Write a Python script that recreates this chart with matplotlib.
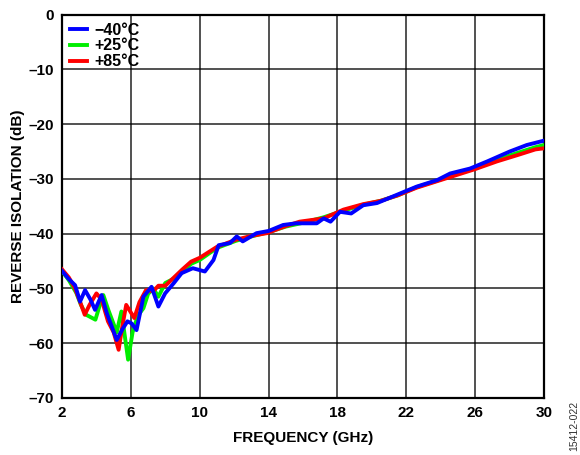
import matplotlib
matplotlib.use("Agg")
import matplotlib.pyplot as plt
from matplotlib.lines import Line2D

# ---- data ----
freq_m40 = [2.0, 2.4, 2.76, 3.05, 3.34, 3.65, 3.92, 4.3, 4.6, 5.18, 5.5, 5.8, 6.05, 6.33,
            6.73, 7.2, 7.6, 7.99, 8.5, 8.95, 9.6, 10.3, 10.8, 11.1, 11.76, 12.15, 12.5,
            13.3, 14.0, 14.85, 15.6, 16.8, 17.2, 17.6, 18.15, 18.8, 19.5, 20.3, 21.45,
            22.6, 23.8, 24.55, 25.7, 26.7, 28.0, 29.0, 30.0]
iso_m40 = [-46.8, -48.3, -49.4, -52.4, -50.3, -52.0, -53.9, -51.2, -54.5, -59.4, -57.5,
           -56.0, -56.4, -57.6, -51.5, -49.7, -53.3, -50.9, -49.0, -47.2, -46.3, -46.9,
           -44.8, -42.1, -41.7, -40.5, -41.4, -39.9, -39.5, -38.4, -38.1, -38.1, -37.2,
           -37.8, -36.0, -36.3, -34.8, -34.4, -32.9, -31.4, -30.2, -29.0, -28.1, -26.8,
           -25.0, -23.8, -23.0]

freq_p25 = [2.0, 2.4, 2.83, 3.1, 3.4, 3.94, 4.2, 4.4, 4.7, 5.18, 5.45, 5.84, 6.1, 6.4,
            6.73, 7.0, 7.3, 7.6, 8.0, 8.5, 9.0, 9.5, 10.0, 11.0, 12.1, 13.0, 14.0, 15.0,
            16.0, 17.2, 18.35, 19.5, 20.5, 21.5, 22.6, 23.8, 25.0, 26.0, 27.26, 28.5,
            29.5, 30.0]
iso_p25 = [-46.8, -48.5, -50.8, -53.0, -54.8, -55.7, -53.0, -51.2, -54.0, -58.0, -54.2,
           -63.0, -58.0, -55.0, -53.6, -51.0, -50.0, -51.5, -49.0, -48.2, -47.0, -45.5,
           -44.8, -42.6, -41.3, -40.5, -39.7, -38.7, -38.0, -37.0, -35.8, -34.7, -34.0,
           -33.0, -31.5, -30.3, -29.0, -28.0, -26.5, -25.2, -24.2, -23.8]

freq_p85 = [2.0, 2.4, 2.74, 3.0, 3.32, 3.6, 4.0, 4.3, 4.67, 5.0, 5.29, 5.5, 5.73, 6.2,
            6.5, 6.88, 7.3, 7.6, 8.0, 8.5, 9.0, 9.5, 10.0, 11.0, 12.1, 13.0, 13.9, 15.0,
            15.8, 17.2, 18.35, 19.5, 20.5, 21.5, 22.6, 23.8, 25.0, 26.0, 27.26, 28.5,
            29.5, 30.0]
iso_p85 = [-46.5, -48.0, -49.9, -52.0, -54.8, -53.0, -50.9, -52.0, -56.0, -58.0, -61.2,
           -57.0, -53.0, -55.4, -52.5, -50.3, -50.5, -49.5, -49.5, -48.0, -46.5, -45.1,
           -44.4, -42.4, -41.1, -40.4, -39.9, -38.6, -37.8, -37.2, -35.6, -34.6, -34.0,
           -33.0, -31.6, -30.4, -29.2, -28.2, -26.8, -25.6, -24.6, -24.4]

labels = ["\u221240\u00b0C", "+25\u00b0C", "+85\u00b0C"]
colors = ["#0000ff", "#00ee00", "#ff0000"]
x_ticks = [2, 6, 10, 14, 18, 22, 26, 30]
y_ticks = [0, -10, -20, -30, -40, -50, -60, -70]

plt.rcParams['font.family'] = ['Liberation Sans', 'DejaVu Sans']

fig = plt.figure(figsize=(5.8, 4.55), dpi=100)
ax = fig.add_axes([0.1069, 0.1253, 0.8310, 0.8424])

ax.plot(freq_p25, iso_p25, color=colors[1], lw=2.8, solid_joinstyle='round', zorder=3)
ax.plot(freq_p85, iso_p85, color=colors[2], lw=2.8, solid_joinstyle='round', zorder=4)
ax.plot(freq_m40, iso_m40, color=colors[0], lw=2.8, solid_joinstyle='round', zorder=5)

ax.set_xlim(2, 30)
ax.set_ylim(-70, 0)
ax.set_xticks(x_ticks)
ax.set_yticks(y_ticks)
ax.set_xticklabels([str(t) for t in x_ticks], fontweight='bold', fontsize=11)
ax.set_yticklabels([str(t).replace('-', '\u2013') for t in y_ticks], fontweight='bold', fontsize=11)
ax.tick_params(length=0, pad=6)
ax.grid(True, color='black', lw=1.2, alpha=0.8)
ax.set_axisbelow(True)
for s in ax.spines.values():
    s.set_linewidth(1.6)
    s.set_color('black')

ax.set_xlabel("FREQUENCY (GHz)", fontweight='bold', fontsize=11, labelpad=8)
ax.set_ylabel("REVERSE ISOLATION (dB)", fontweight='bold', fontsize=11, labelpad=2)

handles = [Line2D([], [], color=c, lw=2.8) for c in colors]
leg = ax.legend(handles, labels, loc='upper left', frameon=False, handlelength=1.05,
                handletextpad=0.45, labelspacing=0.05, borderaxespad=0.1,
                prop={'weight': 'bold', 'size': 11.5})

fig.text(0.99, 0.064, "15412-022", rotation=90, fontsize=7.5, color='#333333',
         ha='center', va='center')

fig.savefig("out.png", dpi=100)
